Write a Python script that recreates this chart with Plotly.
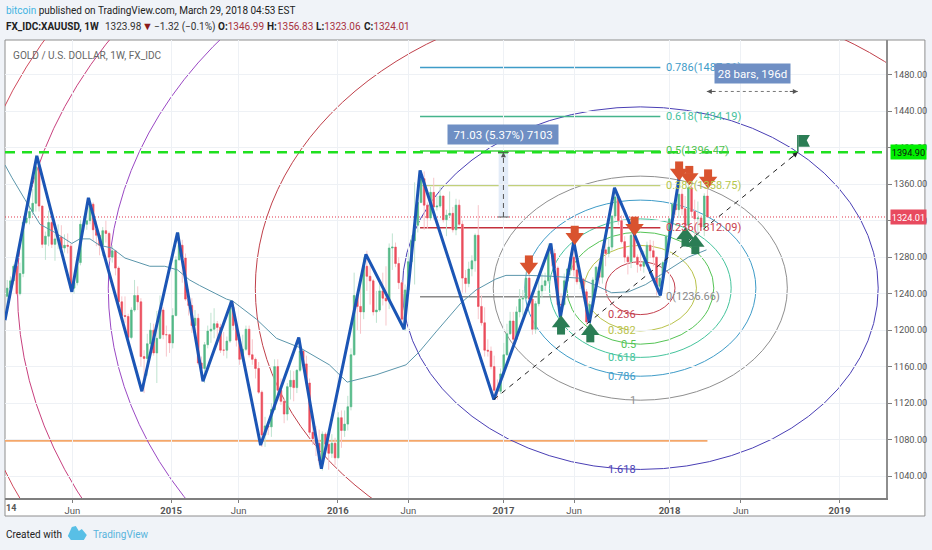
# -*- coding: utf-8 -*-
"""
XAUUSD weekly, TradingView style: candles, zigzag, fib circles and fib levels
"""

import plotly.graph_objects as go

# === Weekly candles, one list per year (first bar = week of 2014-01-06) ===
# x is the bar number, TradingView spaces bars evenly
opens_2014 = [1237,1246,1254,1270,1240,1262,1318,1323,1330,1339,1379,1336,1294,1303,1318,1294,1300,1302,1290,1293,1292,1246,1252,1274,1316,1316,1320,1338,1310,1304,1293,1309,1306,1280,1287,1268,1231,1216,1215,1192,1222,1238,1231,1171,1169,1185,1200,1175,1191,1222,1195,1195]
highs_2014 = [1255,1259,1272,1280,1274,1319,1332,1345,1355,1392,1382,1336,1308,1331,1322,1306,1316,1315,1305,1306,1295,1255,1277,1321,1325,1332,1345,1340,1320,1306,1313,1320,1308,1293,1288,1270,1237,1237,1218,1225,1255,1248,1235,1178,1196,1208,1207,1221,1238,1225,1205,1196]
lows_2014 = [1224,1236,1250,1238,1238,1258,1316,1316,1326,1330,1330,1290,1277,1292,1290,1276,1289,1285,1285,1284,1245,1240,1249,1271,1310,1310,1316,1298,1292,1282,1281,1296,1275,1274,1260,1227,1214,1208,1183,1190,1220,1222,1160,1131,1150,1179,1172,1142,1190,1190,1171,1175]
closes_2014 = [1246,1254,1270,1240,1262,1318,1323,1330,1339,1379,1336,1294,1303,1318,1294,1300,1302,1290,1293,1292,1246,1252,1274,1316,1316,1320,1338,1310,1304,1293,1309,1306,1280,1287,1268,1231,1216,1215,1192,1222,1238,1231,1171,1169,1185,1200,1175,1191,1222,1195,1195,1186]

opens_2015 = [1186,1216,1277,1293,1279,1234,1227,1205,1213,1164,1158,1184,1199,1201,1207,1203,1178,1178,1188,1225,1205,1189,1168,1179,1201,1173,1168,1158,1132,1085,1095,1094,1113,1160,1134,1122,1108,1138,1145,1137,1156,1177,1163,1142,1088,1081,1076,1057,1086,1075,1065,1076]
highs_2015 = [1224,1281,1307,1299,1284,1245,1235,1222,1218,1171,1187,1205,1219,1224,1210,1207,1198,1193,1232,1232,1208,1196,1195,1205,1205,1190,1170,1165,1134,1105,1100,1120,1168,1168,1147,1125,1142,1156,1155,1157,1191,1178,1172,1147,1097,1095,1091,1089,1088,1078,1086,1082]
lows_2015 = [1180,1215,1277,1252,1232,1216,1197,1195,1162,1147,1142,1180,1186,1191,1184,1175,1172,1169,1186,1200,1182,1162,1165,1177,1170,1162,1147,1130,1072,1072,1085,1083,1112,1123,1118,1098,1101,1124,1122,1131,1154,1162,1140,1085,1074,1062,1052,1046,1062,1047,1060,1052]
closes_2015 = [1216,1277,1293,1279,1234,1227,1205,1213,1164,1158,1184,1199,1201,1207,1203,1178,1178,1188,1225,1205,1189,1168,1179,1201,1173,1168,1158,1132,1085,1095,1094,1113,1160,1134,1122,1108,1138,1145,1137,1156,1177,1163,1142,1088,1081,1076,1057,1086,1075,1065,1076,1060]

opens_2016 = [1060,1104,1090,1097,1116,1173,1238,1226,1220,1270,1259,1254,1220,1222,1243,1235,1232,1290,1291,1273,1252,1212,1244,1275,1298,1315,1340,1366,1337,1323,1351,1335,1336,1347,1321,1326,1328,1310,1337,1316,1257,1251,1267,1276,1304,1226,1208,1178,1177,1160,1134,1133]
highs_2016 = [1110,1112,1112,1128,1180,1263,1239,1254,1280,1287,1272,1256,1243,1252,1263,1270,1295,1306,1296,1280,1255,1250,1285,1304,1362,1345,1375,1374,1340,1357,1367,1347,1357,1346,1332,1352,1335,1344,1343,1320,1266,1275,1282,1306,1337,1238,1225,1190,1182,1172,1146,1158]
lows_2016 = [1060,1071,1083,1090,1112,1172,1200,1196,1212,1243,1228,1216,1208,1220,1227,1205,1223,1266,1269,1245,1205,1199,1243,1271,1250,1307,1339,1310,1311,1320,1321,1331,1334,1318,1303,1324,1307,1304,1314,1241,1241,1247,1259,1264,1212,1205,1171,1171,1157,1124,1124,1130]
closes_2016 = [1104,1090,1097,1116,1173,1238,1226,1220,1270,1259,1254,1220,1222,1243,1235,1232,1290,1291,1273,1252,1212,1244,1275,1298,1315,1340,1366,1337,1323,1351,1335,1336,1347,1321,1326,1328,1310,1337,1316,1257,1251,1267,1276,1304,1226,1208,1178,1177,1160,1134,1133,1152]

opens_2017 = [1152,1173,1196,1210,1190,1220,1234,1235,1257,1234,1201,1229,1243,1249,1254,1288,1284,1268,1228,1228,1254,1267,1280,1266,1253,1256,1242,1209,1228,1255,1269,1258,1288,1284,1291,1325,1346,1320,1297,1280,1275,1304,1280,1272,1270,1275,1293,1287,1280,1248,1257,1274]
highs_2017 = [1186,1207,1220,1220,1226,1245,1244,1264,1263,1238,1232,1261,1262,1263,1295,1292,1289,1270,1240,1262,1268,1285,1296,1281,1260,1257,1245,1232,1258,1270,1275,1292,1298,1300,1326,1357,1349,1326,1303,1282,1306,1306,1283,1285,1287,1297,1299,1298,1280,1261,1276,1305]
lows_2017 = [1148,1172,1195,1183,1188,1214,1216,1233,1231,1195,1196,1226,1235,1243,1251,1270,1262,1226,1214,1226,1245,1260,1259,1250,1245,1236,1205,1204,1229,1250,1250,1251,1270,1280,1287,1321,1315,1295,1274,1261,1268,1279,1263,1265,1263,1272,1279,1270,1238,1236,1251,1273]
closes_2017 = [1173,1196,1210,1190,1220,1234,1235,1257,1234,1201,1229,1243,1249,1254,1288,1284,1268,1228,1228,1254,1267,1280,1266,1253,1256,1242,1209,1228,1255,1269,1258,1288,1284,1291,1325,1346,1320,1297,1280,1275,1304,1280,1272,1270,1275,1293,1287,1280,1248,1257,1274,1303]

opens_2018 = [1303,1322,1338,1332,1349,1333,1315,1356,1330,1322,1323,1313,1346.99]
highs_2018 = [1323,1340,1344,1367,1355,1347,1362,1358,1343,1341,1326,1350,1356.83]
lows_2018 = [1297,1309,1326,1323,1326,1308,1313,1323,1302,1303,1309,1303,1323.06]
closes_2018 = [1322,1338,1332,1349,1333,1315,1356,1330,1322,1323,1313,1347,1324.01]

# === Zigzag pivots ===
zigzag_bars = [-0.7, 9.3, 20.3, 25.5, 42.3, 53.5, 61.5, 70.5, 79.6, 91.6, 98.7, 112.7, 124.7, 129.7, 152.9, 170.8, 173.8, 178, 182.9, 190.8, 205.2, 211.1]
zigzag_prices = [1211, 1391, 1242, 1345, 1133, 1307, 1144, 1232, 1074, 1192, 1048, 1283, 1201, 1375, 1124, 1295, 1214, 1297, 1208, 1356, 1238, 1367]

# === Moving average ===
ma_bars = [-0.7, 1.5, 5.6, 10.3, 15, 20.3, 22.8, 26, 29, 32.9, 37, 44.8, 49.5, 53.5, 57.3, 60.4, 68.9, 70.8, 78.3, 84.6, 91.8, 101.2, 106.8, 115.9, 125.3, 129.4, 134.7, 142.6, 147.3, 153.5, 156.7, 163.9, 171, 179.6, 184.9, 189.9, 195.2, 200.6, 203.7, 207.8, 214, 219.7]
ma_prices = [1381, 1367, 1343, 1316, 1307, 1295, 1300, 1300, 1293, 1290, 1279, 1270, 1270, 1266, 1255, 1249, 1234, 1232, 1212, 1191, 1181, 1162, 1143, 1151, 1162, 1176, 1198, 1230, 1244, 1256, 1260, 1260, 1259, 1257, 1249, 1241, 1242, 1250, 1257, 1266, 1280, 1288]

# === Fib circles ===
circle_levels = [0.236, 0.382, 0.5, 0.618, 0.786, 1, 1.618, 2.618, 3.618, 4.236, 4.618]
circle_colors = ['#c4404e', '#b9c24a', '#55c455', '#45c49c', '#3f9cc8', '#8f8f8f', '#4a3fb5', '#c0404a', '#9a48c4', '#c8407e', '#d04a5c']
circle_center_bar = 198.9
circle_center_price = 1246
circle_radius_bars = 46.2
circle_radius_price = 122.8
circle_label_levels = ['0.236', '0.382', '0.5', '0.618', '0.786', '1', '1.618']
circle_label_colors = circle_colors[:7]

# === Fib levels ===
fib_labels = ['0', '0.236', '0.382', '0.5', '0.618', '0.786']
fib_prices = [1236.66, 1312.09, 1358.75, 1396.47, 1434.19, 1487.91]
fib_colors = ['#8a8a8a', '#c4303c', '#c2d07a', '#3fd23f', '#45b48c', '#3f9cc8']
fib_widths = [1.5, 1.5, 2, 1.5, 1.5, 1.5]
fib_start_bar = 129.7
fib_end_bar = 205.2

# === Arrows ===
sell_bars = [163.9, 178.3, 197.1, 211.1, 214.3, 220.2]
sell_prices = [1272.5, 1305, 1315, 1375.5, 1370.6, 1366.8]
buy_bars = [174, 183.2, 213.1, 216.2]
buy_prices = [1204.5, 1196, 1301, 1292.7]

# === Axes ===
price_ticks = [1040, 1080, 1120, 1160, 1200, 1240, 1280, 1320, 1360, 1400, 1440, 1480]
tick_bars = [20.5, 51.5, 72.7, 103.9, 126, 155.9, 178.1, 208.1, 230.5, 261.5]
tick_labels = ['Jun', '<b>2015</b>', 'Jun', '<b>2016</b>', 'Jun', '<b>2017</b>', 'Jun', '<b>2018</b>', 'Jun', '<b>2019</b>']

last_price = 1324.01
resistance_price = 1394.90
support_price = 1078.7

FONT = 'Roboto, Liberation Sans, sans-serif'
GREEN = '#53b987'
RED = '#eb4d5c'


# the furniture around the pane is placed in window pixels
def paper_x(px):
    return (px - 5) / 883


def paper_y(py):
    return (498 - py) / 458


opens = opens_2014 + opens_2015 + opens_2016 + opens_2017 + opens_2018
highs = highs_2014 + highs_2015 + highs_2016 + highs_2017 + highs_2018
lows = lows_2014 + lows_2015 + lows_2016 + lows_2017 + lows_2018
closes = closes_2014 + closes_2015 + closes_2016 + closes_2017 + closes_2018
bars = list(range(len(closes)))

fig = go.Figure()

# Pale wicks first, solid bodies on top
fig.add_trace(go.Candlestick(
    x=bars, open=opens, high=highs, low=lows, close=closes,
    increasing=dict(line=dict(color='#bfe3d0', width=1), fillcolor='#bfe3d0'),
    decreasing=dict(line=dict(color='#f7c6cb', width=1), fillcolor='#f7c6cb'),
    whiskerwidth=0, hoverinfo='skip'
))
fig.add_trace(go.Candlestick(
    x=bars, open=opens, close=closes,
    high=[max(o, c) for o, c in zip(opens, closes)],
    low=[min(o, c) for o, c in zip(opens, closes)],
    increasing=dict(line=dict(color=GREEN, width=0.5), fillcolor=GREEN),
    decreasing=dict(line=dict(color=RED, width=0.5), fillcolor=RED),
    whiskerwidth=0, hoverinfo='skip'
))

fig.add_trace(go.Scatter(x=ma_bars, y=ma_prices, mode='lines', line=dict(color='#5b96ab', width=1)))
fig.add_trace(go.Scatter(x=zigzag_bars, y=zigzag_prices, mode='lines',
                         line=dict(color='#1b55b5', width=3)))
# Trend line up to the flag
fig.add_trace(go.Scatter(x=[152.9, 248.4], y=[1124, resistance_price], mode='lines',
                         line=dict(color='#222222', width=1, dash='5px,5px')))

# Arrows: a triangle head and a square stem
fig.add_trace(go.Scatter(x=sell_bars, y=[p + 5 for p in sell_prices], mode='markers',
                         marker=dict(symbol='square', size=8, color='#d9532f', line_width=0)))
fig.add_trace(go.Scatter(x=sell_bars, y=[p - 3 for p in sell_prices], mode='markers',
                         marker=dict(symbol='triangle-down', size=16, color='#d9532f', line_width=0)))
fig.add_trace(go.Scatter(x=buy_bars, y=[p - 5 for p in buy_prices], mode='markers',
                         marker=dict(symbol='square', size=8, color='#2b7d55', line_width=0)))
fig.add_trace(go.Scatter(x=buy_bars, y=[p + 3 for p in buy_prices], mode='markers',
                         marker=dict(symbol='triangle-up', size=16, color='#2b7d55', line_width=0)))

shapes = [
    # page frame and white background of the chart
    dict(type='rect', xref='paper', yref='paper', layer='below', x0=paper_x(5), x1=paper_x(927),
         y0=paper_y(516), y1=paper_y(40), fillcolor='white', line=dict(color='#8e8e8e', width=1)),
    # last price, resistance and support
    dict(type='line', xref='paper', yref='y', x0=0, x1=1, y0=last_price, y1=last_price, layer='below',
         line=dict(color='#e0354a', width=1, dash='1px,2px')),
    dict(type='line', xref='x', yref='y', x0=-1, x1=220, y0=support_price, y1=support_price, layer='below',
         line=dict(color='#f4a76a', width=2)),
]
for level, color in zip(circle_levels, circle_colors):
    shapes.append(dict(type='circle', xref='x', yref='y', layer='below',
                       x0=circle_center_bar - level * circle_radius_bars,
                       x1=circle_center_bar + level * circle_radius_bars,
                       y0=circle_center_price - level * circle_radius_price,
                       y1=circle_center_price + level * circle_radius_price,
                       line=dict(color=color, width=1)))
for price, color, width in zip(fib_prices, fib_colors, fib_widths):
    shapes.append(dict(type='line', xref='x', yref='y', x0=fib_start_bar, x1=fib_end_bar, y0=price, y1=price,
                       layer='below', line=dict(color=color, width=width)))
shapes += [
    dict(type='line', xref='paper', yref='y', x0=0, x1=1, y0=resistance_price, y1=resistance_price,
         line=dict(color='#1fe01f', width=2.5, dash='10px,7px')),
    # price range tool
    dict(type='rect', xref='x', yref='y', x0=154.4, x1=157.4, y0=last_price, y1=resistance_price, layer='below',
         fillcolor='#e3ecf8', line_width=0),
    dict(type='line', xref='x', yref='y', x0=155.9, x1=155.9, y0=last_price, y1=resistance_price,
         line=dict(color='#555555', width=1, dash='5px,4px')),
    dict(type='line', xref='x', yref='y', x0=154.2, x1=157.6, y0=last_price, y1=last_price,
         line=dict(color='#555555', width=1)),
    dict(type='line', xref='x', yref='y', x0=154.2, x1=157.6, y0=resistance_price, y1=resistance_price,
         line=dict(color='#555555', width=1)),
    # date range tool
    dict(type='line', xref='x', yref='y', x0=219.8, x1=248.4, y0=1461.6, y1=1461.6,
         line=dict(color='#777777', width=1, dash='3px,3px')),
    # flag
    dict(type='line', xref='x', yref='y', x0=248.4, x1=248.4, y0=resistance_price, y1=1414,
         line=dict(color='#2b7d55', width=1.5)),
    dict(type='path', xref='x', yref='y',
         path='M 248.6 1414 L 252.2 1414 L 251.2 1408 L 252.2 1401 L 248.6 1401 Z',
         fillcolor='#2b7d55', line_width=0),
    # TradingView logo
    dict(type='path', xref='paper', yref='paper', fillcolor='#58bfe6', line_width=0,
         path='M %f %f L %f %f L %f %f L %f %f L %f %f L %f %f L %f %f L %f %f Z' % (
             paper_x(68), paper_y(536), paper_x(72), paper_y(527), paper_x(76), paper_y(526),
             paper_x(79), paper_y(531), paper_x(82), paper_y(529), paper_x(87), paper_y(535),
             paper_x(84), paper_y(540), paper_x(71), paper_y(540))),
]


def text_px(px, py, text, size=11, color='#444444', anchor='left'):
    return dict(xref='paper', yref='paper', x=paper_x(px), y=paper_y(py), text=text, showarrow=False,
                xanchor=anchor, yanchor='middle', borderpad=0, font=dict(family=FONT, size=size, color=color))


def price_box(price, text, fill, color):
    return dict(xref='paper', yref='y', x=paper_x(892), y=price, text=text, showarrow=False, xanchor='left',
                yanchor='middle', width=35, height=14, bgcolor=fill, borderpad=0,
                font=dict(family=FONT, size=9.2, color=color))


dark_red = '#a8323e'
annotations = [
    text_px(5, 10.5, '<span style="color:#3fb4e2">bitcoin</span> published on TradingView.com, March 29, 2018 04:53 EST',
            size=10, color='#222222'),
    text_px(5, 27, '<b>FX_IDC:XAUUSD, 1W</b>', size=10, color='#222222'),
    text_px(104, 27, '1323.98', size=10, color='#333333'),
    text_px(141, 27, '▼', size=11, color='#8b1a1a'),
    text_px(153, 27, '−1.32 (−0.1%)', size=10, color='#333333'),
    text_px(217, 27, '<b>O:</b><span style="color:%s">1346.99</span>' % dark_red, size=10, color='#222222'),
    text_px(267, 27, '<b>H:</b><span style="color:%s">1356.83</span>' % dark_red, size=10, color='#222222'),
    text_px(316, 27, '<b>L:</b><span style="color:%s">1323.06</span>' % dark_red, size=10, color='#222222'),
    text_px(364, 27, '<b>C:</b><span style="color:%s">1324.01</span>' % dark_red, size=10, color='#222222'),
    text_px(12, 56, 'GOLD / U.S. DOLLAR, 1W, FX_IDC', size=10.1, color='#666666'),
    text_px(5, 534, 'Created with', size=10, color='#222222'),
    text_px(92, 534, 'TradingView', size=10, color='#58b4dc'),
    text_px(5, 508, '<b>14</b>', size=9, color='#555555'),
]
for label, price, color in zip(fib_labels, fib_prices, ['#8a8a8a', '#c9434f', '#b5c64a', '#4fc34f', '#46c29c', '#3f9cc8']):
    annotations.append(dict(xref='x', yref='y', x=206.3, y=price, text='%s(%.2f)' % (label, price), showarrow=False,
                            xanchor='left', yanchor='middle', font=dict(family=FONT, size=11, color=color)))
for label, level, color in zip(circle_label_levels, circle_levels, circle_label_colors):
    annotations.append(dict(xref='x', yref='y', x=198.2, y=circle_center_price - level * circle_radius_price,
                            text=label, showarrow=False, xanchor='right', yanchor='middle',
                            font=dict(family=FONT, size=11, color=color)))
annotations += [
    dict(xref='x', yref='y', x=155.9, y=1414.5, text='71.03 (5.37%) 7103', showarrow=False, width=110, height=19,
         bgcolor='#6f8fc4', borderpad=0, font=dict(family=FONT, size=11.5, color='white')),
    dict(xref='x', yref='y', x=234.2, y=1481, text='28 bars, 196d', showarrow=False, width=75, height=19,
         bgcolor='#6f8fc4', borderpad=0, font=dict(family=FONT, size=11.5, color='white')),
    # arrow heads of the two range tools and the trend line
    dict(xref='x', yref='y', axref='x', ayref='y', x=155.9, y=resistance_price, ax=155.9, ay=1388, text='',
         showarrow=True, arrowhead=2, arrowsize=1, arrowwidth=1, arrowcolor='#555555'),
    dict(xref='x', yref='y', axref='x', ayref='y', x=248.4, y=1461.6, ax=245.4, ay=1461.6, text='',
         showarrow=True, arrowhead=2, arrowsize=1, arrowwidth=1, arrowcolor='#555555'),
    dict(xref='x', yref='y', axref='x', ayref='y', x=219.8, y=1461.6, ax=222.8, ay=1461.6, text='',
         showarrow=True, arrowhead=2, arrowsize=1, arrowwidth=1, arrowcolor='#555555'),
    dict(xref='x', yref='y', axref='x', ayref='y', x=248.4, y=resistance_price, ax=245.6, ay=1387, text='',
         showarrow=True, arrowhead=2, arrowsize=1, arrowwidth=1, arrowcolor='#222222'),
    price_box(last_price, '1324.01', '#e84a5f', 'white'),
    price_box(resistance_price, '1394.90', '#00f000', '#111111'),
]

fig.update_layout(
    width=932, height=550, autosize=False,
    margin=dict(l=5, r=44, t=40, b=52),
    paper_bgcolor='#f0f3f8', plot_bgcolor='rgba(0,0,0,0)',
    showlegend=False, hovermode=False,
    font=dict(family=FONT, size=11, color='#555555'),
    shapes=shapes, annotations=annotations,
    xaxis=dict(range=[-0.7, 276.1], tickvals=tick_bars, ticktext=tick_labels, rangeslider=dict(visible=False),
               showgrid=True, gridcolor='#eef1f5', zeroline=False, showline=True, linecolor='#7f7f7f', linewidth=2,
               ticks='outside', ticklen=3, tickcolor='#7f7f7f', tickfont=dict(family=FONT, size=9.5, color='#555555')),
    yaxis=dict(range=[1016, 1518], side='right', tickvals=price_ticks, ticktext=['%.2f' % p for p in price_ticks],
               showgrid=True, gridcolor='#eef1f5', zeroline=False, showline=True, linecolor='#8e8e8e', linewidth=2,
               ticks='outside', ticklen=4, tickcolor='#7f7f7f', tickfont=dict(family=FONT, size=9.2, color='#555555')),
)

# the page's default body margin would push the figure off the window
fig.write_html("out.html", config=dict(displayModeBar=False),
               post_script="document.body.style.margin='0';")
